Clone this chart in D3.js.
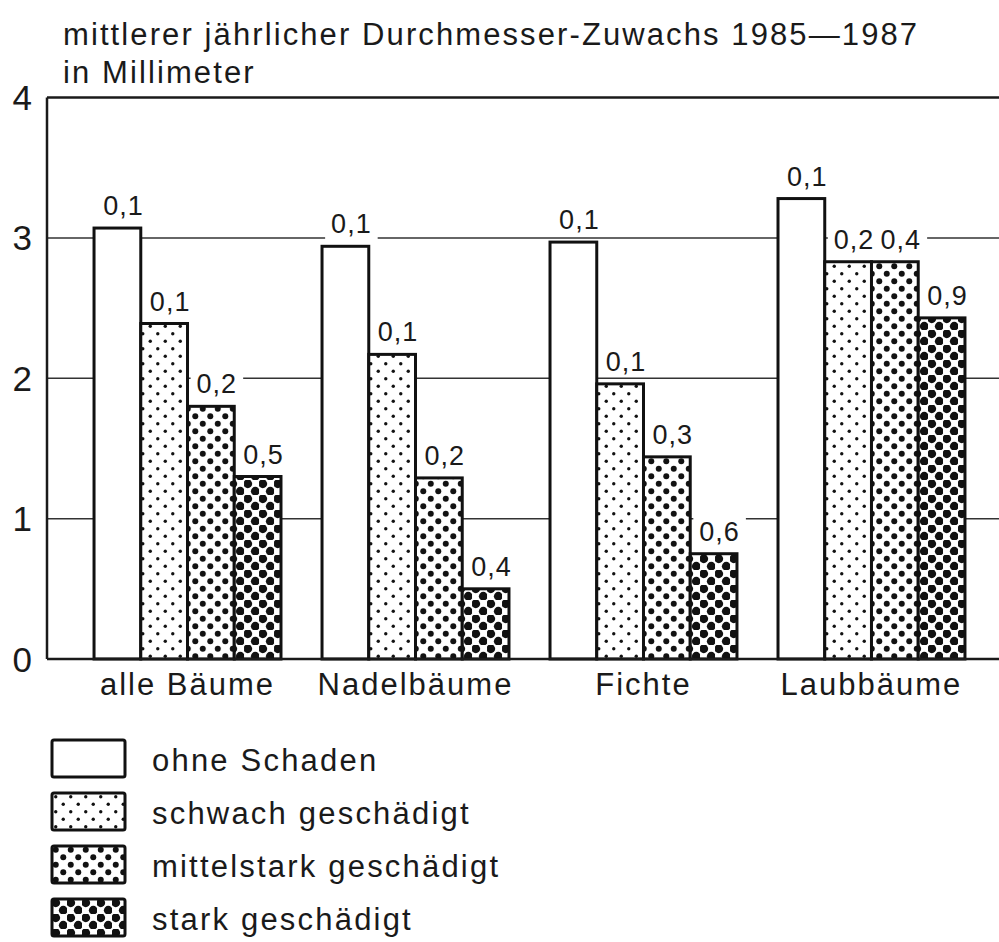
<!DOCTYPE html>
<html>
<head>
<meta charset="utf-8">
<script src="https://cdn.jsdelivr.net/npm/d3@7"></script>
<style>
  body { margin: 0; background: #fff; }
  text { font-family: "Liberation Sans", Arial, sans-serif; fill: #1a1a1a; }
</style>
</head>
<body>
<div id="chart"></div>
<script>
// values
const groups = ["alle Bäume", "Nadelbäume", "Fichte", "Laubbäume"]
const classes = ["ohne Schaden", "schwach geschädigt", "mittelstark geschädigt", "stark geschädigt"]
const ohne = [3.07, 2.94, 2.97, 3.28]
const schwach = [2.39, 2.17, 1.96, 2.83]
const mittel = [1.80, 1.29, 1.44, 2.83]
const stark = [1.30, 0.50, 0.75, 2.43]
// numbers printed above the bars
const errOhne = ["0,1", "0,1", "0,1", "0,1"]
const errSchwach = ["0,1", "0,1", "0,1", "0,2"]
const errMittel = ["0,2", "0,2", "0,3", "0,4"]
const errStark = ["0,5", "0,4", "0,6", "0,9"]
const yTicks = [0, 1, 2, 3, 4]
const titleLines = ["mittlerer jährlicher Durchmesser-Zuwachs 1985—1987", "in Millimeter"]

let width = 999
let height = 942

let svg = d3.select("#chart").append("svg")
    .attr("width", width)
    .attr("height", height)

// dot patterns, same staggered grid, growing dots
let defs = svg.append("defs")
const patternId = ["none", "dotS", "dotM", "dotL"]
const dotR = [0, 1.7, 3.0, 4.4]
for (let k = 1; k < 4; k++) {
    let p = defs.append("pattern")
        .attr("id", patternId[k])
        .attr("patternUnits", "userSpaceOnUse")
        .attr("width", 15).attr("height", 15)
    p.append("rect").attr("width", 15).attr("height", 15).attr("fill", "#fff")
    p.append("circle").attr("cx", 3.75).attr("cy", 3.75).attr("r", dotR[k]).attr("fill", "#111")
    p.append("circle").attr("cx", 11.25).attr("cy", 11.25).attr("r", dotR[k]).attr("fill", "#111")
}
const fills = ["#fff", "url(#dotS)", "url(#dotM)", "url(#dotL)"]

let x0 = d3.scaleBand().domain(groups).range([53, 1006]).paddingInner(0.18).paddingOuter(0.18)
let x1 = d3.scaleBand().domain(classes).range([0, x0.bandwidth()])
let y = d3.scaleLinear().domain([0, 4]).range([659, 97.5])

let rows = groups.map((g, i) => ({
    group: g,
    vals: [ohne[i], schwach[i], mittel[i], stark[i]],
    errs: [errOhne[i], errSchwach[i], errMittel[i], errStark[i]]
}))

// title
svg.append("g").selectAll("text")
    .data(titleLines)
    .join("text")
    .attr("x", 63)
    .attr("y", (d, i) => 45 + i * 38)
    .attr("font-size", 31)
    .attr("letter-spacing", 2.1)
    .text(d => d)

// grid lines and frame
let grid = svg.append("g")
grid.selectAll("line")
    .data(yTicks.filter(t => t > 0 && t < 4))
    .join("line")
    .attr("x1", 47).attr("x2", width)
    .attr("y1", d => y(d)).attr("y2", d => y(d))
    .attr("stroke", "#333").attr("stroke-width", 1.5)

svg.append("line").attr("x1", 47).attr("x2", width).attr("y1", y(4)).attr("y2", y(4))
    .attr("stroke", "#1a1a1a").attr("stroke-width", 2.5)
svg.append("line").attr("x1", 47).attr("x2", 47).attr("y1", y(4)).attr("y2", y(0))
    .attr("stroke", "#1a1a1a").attr("stroke-width", 2.5)

// y labels
svg.append("g").selectAll("text")
    .data(yTicks)
    .join("text")
    .attr("x", 32)
    .attr("y", d => y(d))
    .attr("dy", "0.36em")
    .attr("text-anchor", "end")
    .attr("font-size", 35)
    .text(d => d)

let gs = svg.append("g").selectAll("g")
    .data(rows)
    .join("g")
    .attr("transform", d => `translate(${x0(d.group)},0)`)

// white patches behind the value labels (they break the grid lines), then bars, then labels
let patchLayer = gs.append("g")
let barLayer = gs.append("g")
let labelLayer = gs.append("g")

barLayer.selectAll("rect")
    .data(d => d.vals.map((v, k) => ({ k, v })))
    .join("rect")
    .attr("x", d => x1(classes[d.k]))
    .attr("y", d => y(d.v))
    .attr("width", x1.bandwidth())
    .attr("height", d => y(0) - y(d.v))
    .attr("fill", d => fills[d.k])
    .attr("stroke", "#111")
    .attr("stroke-width", 3)

let labels = labelLayer.selectAll("text")
    .data(d => d.vals.map((v, k) => ({ k, v, e: d.errs[k] })))
    .join("text")
    .attr("x", d => x1(classes[d.k]) + x1.bandwidth() / 2 + 6)
    .attr("y", d => y(d.v) - 13)
    .attr("text-anchor", "middle")
    .attr("font-size", 27)
    .attr("letter-spacing", 1)
    .text(d => d.e)

labels.each(function () {
    let b = this.getBBox()
    d3.select(this.parentNode.parentNode).select("g")
        .append("rect")
        .attr("x", b.x - 6).attr("y", b.y)
        .attr("width", b.width + 12).attr("height", b.height)
        .attr("fill", "#fff")
})

// baseline
svg.append("line").attr("x1", 47).attr("x2", width).attr("y1", y(0)).attr("y2", y(0))
    .attr("stroke", "#1a1a1a").attr("stroke-width", 2.5)

// category labels
svg.append("g").selectAll("text")
    .data(groups)
    .join("text")
    .attr("x", d => x0(d) + x0.bandwidth() / 2)
    .attr("y", 695)
    .attr("text-anchor", "middle")
    .attr("font-size", 31)
    .attr("letter-spacing", 2)
    .text(d => d)

// legend
let leg = svg.append("g").selectAll("g")
    .data(classes)
    .join("g")
    .attr("transform", (d, i) => `translate(52,${740 + i * 53})`)

leg.append("rect")
    .attr("width", 73).attr("height", 37)
    .attr("rx", 2)
    .attr("fill", (d, i) => fills[i])
    .attr("stroke", "#111")
    .attr("stroke-width", 3)

leg.append("text")
    .attr("x", 100)
    .attr("y", 31)
    .attr("font-size", 31)
    .attr("letter-spacing", 2.2)
    .text(d => d)
</script>
</body>
</html>
